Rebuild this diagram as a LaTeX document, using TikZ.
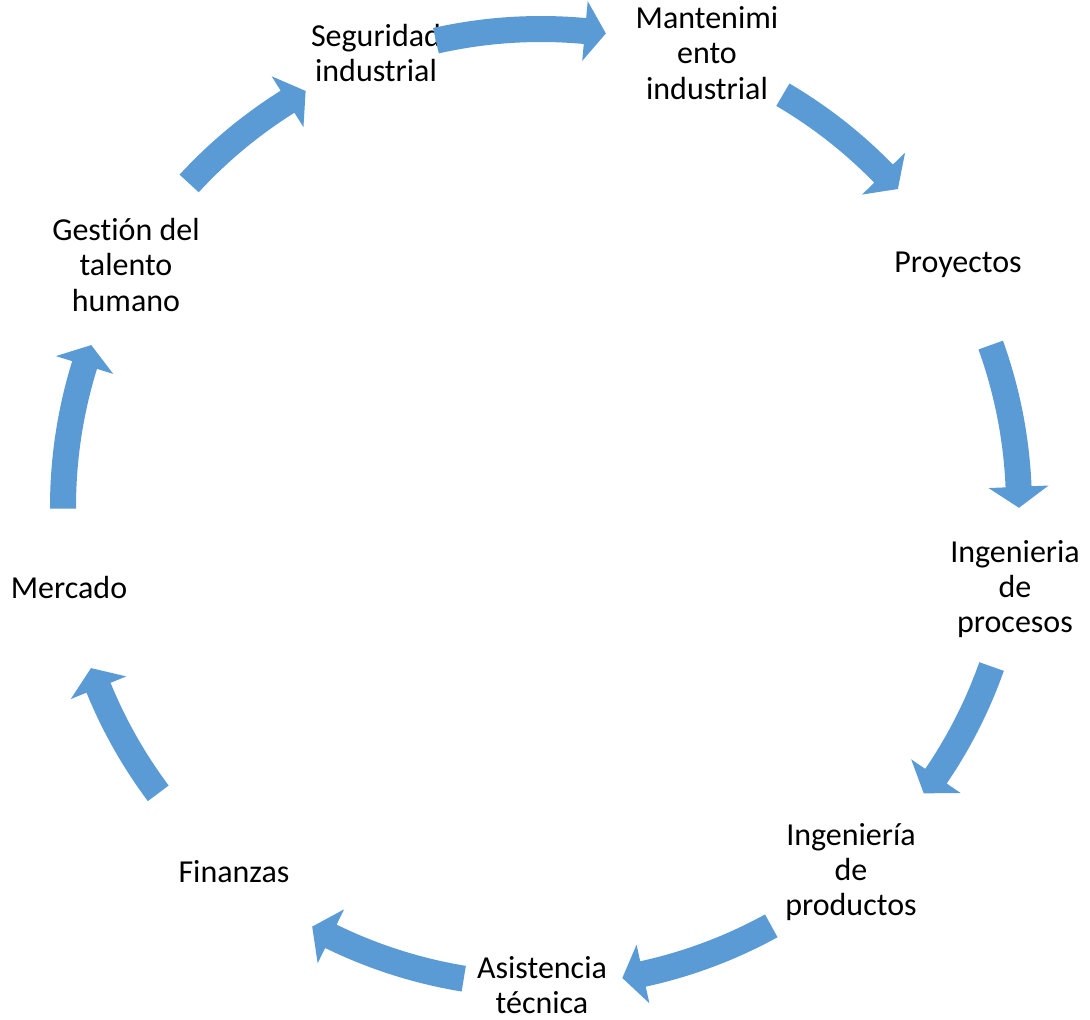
\documentclass[tikz,border=0pt]{standalone}
\usepackage{fontspec}
\setmainfont{Carlito}[Ligatures=NoCommon]
\definecolor{arrowblue}{HTML}{5B9BD5}
\newcommand\cycarrow[2]{%
  \pgfmathsetmacro\cabase{#2+2.52}%
  \fill[arrowblue] (#1:491) arc[start angle=#1, end angle=\cabase, radius=491]
    -- (\cabase:508) -- (#2:478) -- (\cabase:448) -- (\cabase:465)
    arc[start angle=\cabase, end angle=#1, radius=465] -- cycle;}
\begin{document}
\begin{tikzpicture}[x=0.75pt,y=0.75pt,
  lbl/.style={align=center,inner sep=0pt,font=\fontsize{24}{26.4}\selectfont}]
\fill[white] (0,0) rectangle (1090,1020);
\useasboundingbox (0,0) rectangle (1090,1020);
\node[lbl] (seg) at (376,967) {Seguridad\\industrial};
\node[lbl] (man) at (707,967) {Mantenimi\\ento\\industrial};
\node[lbl] (pro) at (958,755) {Proyectos};
\node[lbl] (ipc) at (1015,431) {Ingenieria\\de\\procesos};
\node[lbl] (ipd) at (851,148) {Ingeniería\\de\\productos};
\node[lbl] (asi) at (542,35) {Asistencia\\técnica};
\node[lbl] (fin) at (234,148) {Finanzas};
\node[lbl] (mer) at (69,432) {Mercado};
\node[lbl] (ges) at (126,755) {Gestión del\\talento\\humano};
\begin{scope}[shift={(541,513)}]
\cycarrow{102.7}{82.2}
\cycarrow{59.6}{41.7}
\cycarrow{19.8}{-0.1}
\cycarrow{-19.5}{-36.8}
\cycarrow{-61.2}{-80.2}
\cycarrow{-99.3}{-118.6}
\cycarrow{-143.2}{-160.3}
\cycarrow{-179.8}{-199.8}
\cycarrow{137.4}{119.5}
\end{scope}
\end{tikzpicture}
\end{document}
